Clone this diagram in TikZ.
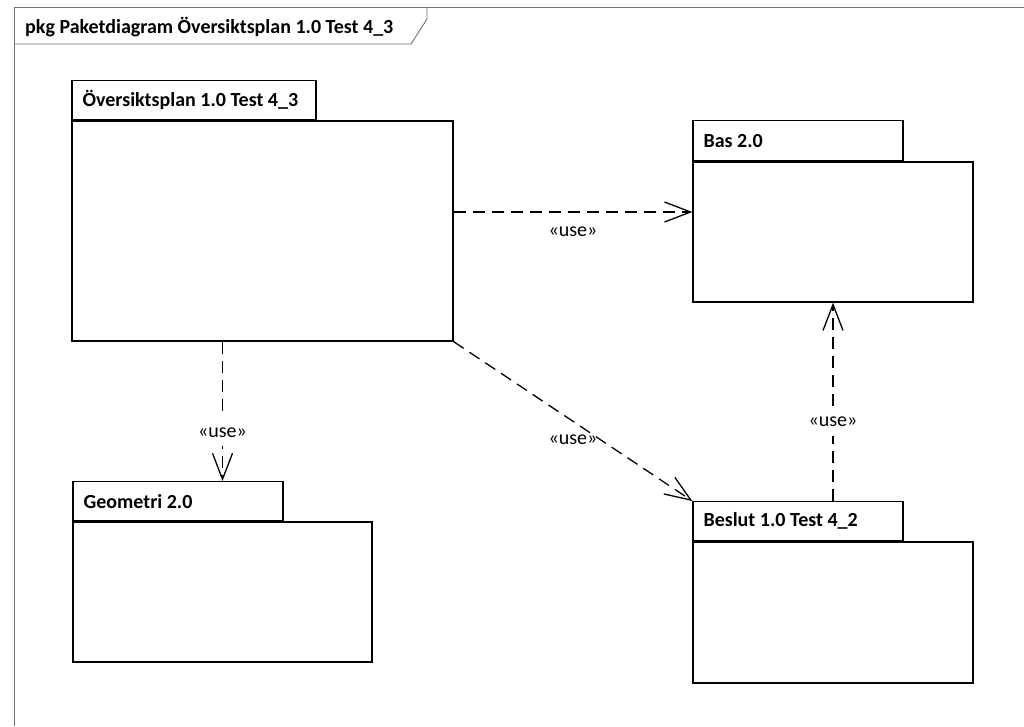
\documentclass[tikz,border=0pt]{standalone}
\usepackage{fontspec}
\setmainfont{Carlito}
\usetikzlibrary{arrows.meta,positioning}
\tikzset{
  pkgbody/.style={draw=black, line width=1.3pt, inner sep=0pt, fill=white},
  pkgtab/.style={draw=black, line width=1.3pt, inner sep=0pt, anchor=south west, fill=white},
  pkglabel/.style={anchor=west, inner sep=0pt, font=\bfseries\fontsize{20}{24}\selectfont},
  dep/.style={draw=black, line width=1.3pt, dash pattern=on 12pt off 7pt, -{Straight Barb[length=26pt,width=20pt,line width=1.3pt]}},
  uselabel/.style={font=\fontsize{20}{24}\selectfont, inner xsep=3pt, inner ysep=3pt},
  onlabel/.style={uselabel, fill=white, inner ysep=9pt},
  frameline/.style={draw=black!55, line width=0.9pt}
}
\begin{document}
\begin{tikzpicture}[x=1pt,y=-1pt]
\useasboundingbox (0,0) rectangle (1024,726);
% frame
\coordinate (f1) at (14,726);
\coordinate (f2) at (14,7.5);
\coordinate (f3) at (1024,7.5);
\coordinate (t1) at (14,44);
\coordinate (t2) at (411,44);
\coordinate (t3) at (427,19);
\coordinate (t4) at (427,7.5);
\draw[frameline] (f1) -- (f2) -- (f3);
\draw[frameline] (t1) -- (t2) -- (t3) -- (t4);
\node[pkglabel] (title) at (25,27) {pkg Paketdiagram Översiktsplan 1.0 Test 4\_3};

% packages
\node[pkgbody, minimum width=381pt, minimum height=220pt] (ob) at (262.5,231) {};
\node[pkgtab, minimum height=39pt, minimum width=244pt] (ot) at (ob.north west) {};
\node[pkglabel] (otl) at ([xshift=11pt]ot.west) {Översiktsplan 1.0 Test 4\_3};

\node[pkgbody, minimum width=280pt, minimum height=140pt] (bb) at (833,232) {};
\node[pkgtab, minimum height=40pt, minimum width=210pt] (bt) at (bb.north west) {};
\node[pkglabel] (btl) at ([xshift=11pt]bt.west) {Bas 2.0};

\node[pkgbody, minimum width=299pt, minimum height=140pt] (gb) at (222.5,592) {};
\node[pkgtab, minimum height=39pt, minimum width=210pt] (gt) at (gb.north west) {};
\node[pkglabel] (gtl) at ([xshift=11pt]gt.west) {Geometri 2.0};

\node[pkgbody, minimum width=280pt, minimum height=141pt] (sb) at (833,612.5) {};
\node[pkgtab, minimum height=39pt, minimum width=210pt] (st) at (sb.north west) {};
\node[pkglabel] (stl) at ([xshift=11pt]st.west) {Beslut 1.0 Test 4\_2};

% dependencies
\draw[dep] ([yshift=19pt]ob.east) -- coordinate[pos=0.5] (m1) ([yshift=19pt]ob.east -| bb.west);
\draw[dep] ([xshift=-40pt]ob.south) -- coordinate[pos=0.5] (m2) ([xshift=-40pt]ob.south |- gt.north);
\draw[dep] (ob.south east) -- coordinate[pos=0.5] (m3) (st.north west);
\draw[dep] (bb.south |- st.north) -- coordinate[pos=0.5] (m4) (bb.south);
\node[uselabel] (l1) at ([yshift=-20pt]m1) {«use»};
\node[onlabel] (l2) at ([yshift=-21pt]m2) {«use»};
\node[uselabel] (l3) at ([yshift=-18pt]m3) {«use»};
\node[onlabel] (l4) at ([yshift=-20pt]m4) {«use»};
\end{tikzpicture}
\end{document}
